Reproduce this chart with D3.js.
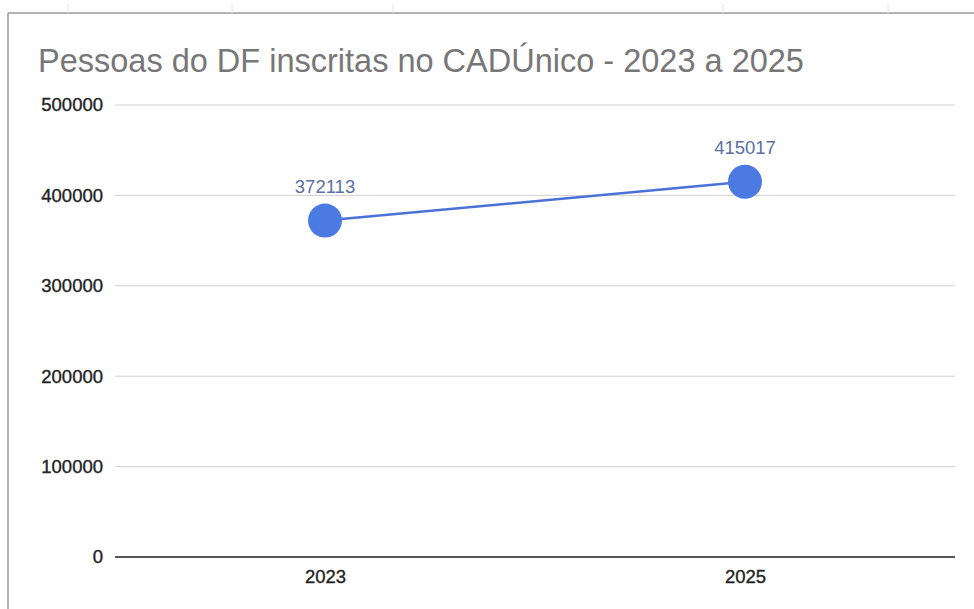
<!DOCTYPE html>
<html>
<head>
<meta charset="utf-8">
<script src="https://cdn.jsdelivr.net/npm/d3@7"></script>
<style>
body{margin:0;background:#fff;}
svg{display:block;font-family:"Liberation Sans",Arial,sans-serif;}
</style>
</head>
<body>
<svg id="chart" width="974" height="609"></svg>
<script>
var years = ["2023", "2025"];
var pessoas = [372113, 415017];
var yTicks = [0, 100000, 200000, 300000, 400000, 500000];
var title = "Pessoas do DF inscritas no CADÚnico - 2023 a 2025";

var svg = d3.select("#chart");

// spreadsheet frame
svg.append("line").attr("x1",8).attr("x2",974).attr("y1",13).attr("y2",13)
	.attr("stroke","#9a9a9a").attr("stroke-width",1.5);
svg.append("line").attr("x1",8).attr("x2",8).attr("y1",13).attr("y2",609)
	.attr("stroke","#9a9a9a").attr("stroke-width",1.5);
[68,232,393,723,888].forEach(function(x){
	svg.append("line").attr("x1",x).attr("x2",x).attr("y1",4).attr("y2",13)
		.attr("stroke","#e4e4e4").attr("stroke-width",1);
});

svg.append("text").attr("x",38).attr("y",72)
	.attr("font-size",32.5).attr("fill","#777")
	.text(title);

var x = d3.scalePoint().domain(years).range([115,955]).padding(0.5);
var y = d3.scaleLinear().domain([0,500000]).range([557,105]);

// grid
svg.append("g").selectAll("line").data(yTicks.filter(function(d){return d>0;}))
	.enter().append("line")
	.attr("x1",115).attr("x2",955)
	.attr("y1",function(d){return y(d);}).attr("y2",function(d){return y(d);})
	.attr("stroke","#d0d0d0").attr("stroke-width",1);

var yAxis = d3.axisLeft(y).tickValues(yTicks).tickSize(0).tickPadding(12)
	.tickFormat(function(d){return d;});
var gy = svg.append("g").attr("transform","translate(115,0)").call(yAxis);
gy.select(".domain").remove();
gy.selectAll("text").attr("font-size",18.5).attr("fill","#222")
	.attr("stroke","#222").attr("stroke-width",0.35)
	.attr("font-family","Liberation Sans, Arial, sans-serif");

var xAxis = d3.axisBottom(x).tickSize(0).tickPadding(13);
var gx = svg.append("g").attr("transform","translate(0,"+y(0)+")").call(xAxis);
gx.select(".domain").attr("stroke","#555").attr("stroke-width",2)
	.attr("d","M115,0H955");
gx.selectAll("text").attr("font-size",18.5).attr("fill","#222")
	.attr("stroke","#222").attr("stroke-width",0.35)
	.attr("font-family","Liberation Sans, Arial, sans-serif");

var line = d3.line()
	.x(function(d,i){return x(years[i]);})
	.y(function(d){return y(d);});

svg.append("path").datum(pessoas)
	.attr("d",line).attr("fill","none")
	.attr("stroke","#4a72d6").attr("stroke-width",2.5);

svg.append("g").selectAll("circle").data(pessoas).enter().append("circle")
	.attr("cx",function(d,i){return x(years[i]);})
	.attr("cy",function(d){return y(d);})
	.attr("r",17)
	.attr("fill","#4a7ae2");

svg.append("g").selectAll("text").data(pessoas).enter().append("text")
	.attr("x",function(d,i){return x(years[i]);})
	.attr("y",function(d){return y(d)-28;})
	.attr("text-anchor","middle")
	.attr("font-size",18.5).attr("fill","#5b6fa6")
	.text(function(d){return d;});
</script>
</body>
</html>
